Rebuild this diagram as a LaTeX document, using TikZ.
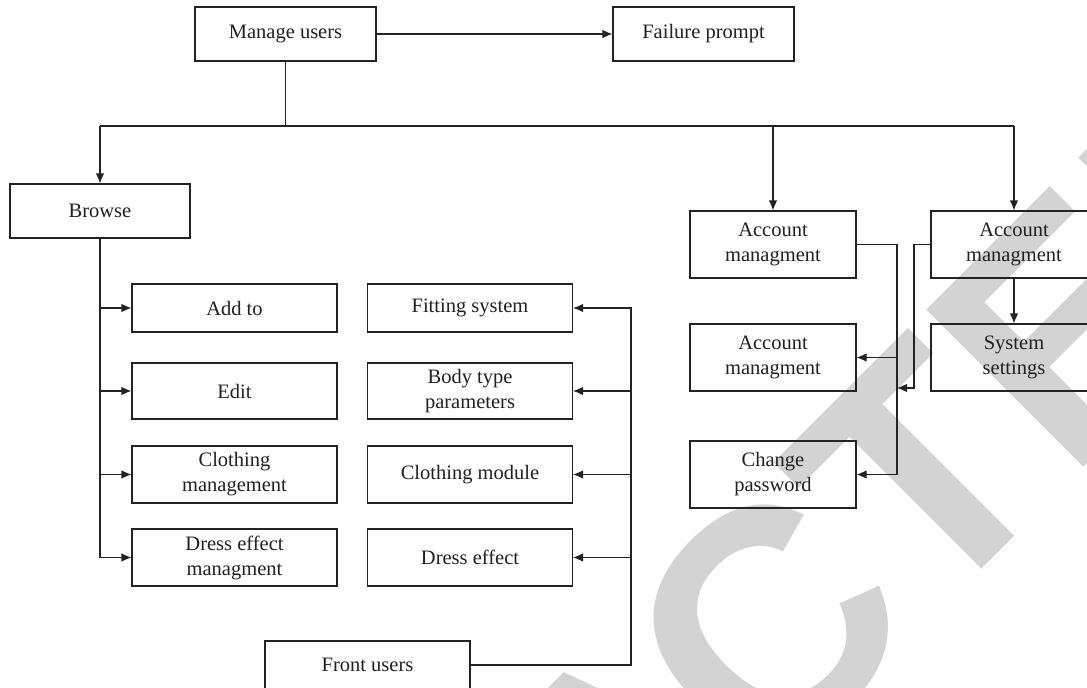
\documentclass[tikz,border=0pt]{standalone}
\usepackage{fontspec}
\setmainfont{Liberation Serif}
\newfontfamily\wmfont{Liberation Sans}
\usetikzlibrary{arrows.meta}
\definecolor{linec}{RGB}{35,35,35}
\definecolor{txtc}{RGB}{35,31,32}
\definecolor{wmc}{RGB}{211,211,211}
\begin{document}
\begin{tikzpicture}[x=1pt,y=-1pt,
  box/.style={draw=linec, line width=1.1pt, inner sep=0pt, align=center, text=txtc,
    font=\fontsize{20.5}{25}\selectfont},
  conn/.style={draw=linec, line width=1.1pt},
  arr/.style={conn, -{Latex[length=10pt,width=8.5pt]}},
  wmark/.style={anchor=base west, rotate=45, inner sep=0pt, outer sep=0pt, text=wmc,
    font=\wmfont\bfseries\fontsize{323}{323}\selectfont}]
\useasboundingbox (0,0) rectangle (1087,688);
\clip (0,0) rectangle (1087,688);
% watermark
\node[wmark] (wm) at (-2.0,1553.0) {RETRA\kern-30pt CTED};
% top
\node[box, minimum width=181pt, minimum height=54pt] (mu) at (285.5,34) {Manage users};
\node[box, minimum width=181pt, minimum height=54pt] (fp) at (703.5,34) {Failure prompt};
\node[box, minimum width=180pt, minimum height=54pt] (br) at (100,211) {Browse};
% left column
\node[box, minimum width=205pt, minimum height=48pt] (a1) at (234.5,308) {Add to};
\node[box, minimum width=205pt, minimum height=56pt] (a2) at (234.5,391) {Edit};
\node[box, minimum width=205pt, minimum height=57pt] (a3) at (234.5,474.5) {Clothing\\management};
\node[box, minimum width=205pt, minimum height=57pt] (a4) at (234.5,557.5) {Dress effect\\managment};
% right column
\node[box, minimum width=205pt, minimum height=48pt] (b1) at (470,308) {Fitting system};
\node[box, minimum width=205pt, minimum height=56pt] (b2) at (470,391) {Body type\\parameters};
\node[box, minimum width=205pt, minimum height=57pt] (b3) at (470,474.5) {Clothing module};
\node[box, minimum width=205pt, minimum height=57pt] (b4) at (470,557.5) {Dress effect};
\node[box, minimum width=205pt, minimum height=48pt] (fu) at (367.5,665) {Front users};
% account part
\node[box, minimum width=166pt, minimum height=67pt] (c1) at (773,244.5) {Account\\managment};
\node[box, minimum width=166pt, minimum height=67pt] (c2) at (773,357.5) {Account\\managment};
\node[box, minimum width=166pt, minimum height=67pt] (c3) at (773,474.5) {Change\\password};
\node[box, minimum width=166pt, minimum height=67pt] (d1) at (1014,244.5) {Account\\managment};
\node[box, minimum width=166pt, minimum height=67pt] (d2) at (1014,357.5) {System\\settings};
% coordinates
\coordinate (j) at (285.5,126);
\coordinate (hl) at (100,126);
\coordinate (hr) at (1014,126);
\coordinate (rx) at (631,308);
\coordinate (vx) at (897,0);
\coordinate (wx) at (914,388);
\coordinate (wt) at (897,388);
% connectors
\draw[arr] (mu) -- (fp);
\draw[conn] (mu.south) -- (j);
\draw[conn] (hl) -- (hr);
\draw[arr] (hl) -- (br.north);
\draw[arr] (c1.north |- hl) -- (c1.north);
\draw[arr] (hr) -- (d1.north);
\draw[conn] (br.south) -- (br.south |- a4.west);
\draw[arr] (br.south |- a1.west) -- (a1.west);
\draw[arr] (br.south |- a2.west) -- (a2.west);
\draw[arr] (br.south |- a3.west) -- (a3.west);
\draw[arr] (br.south |- a4.west) -- (a4.west);
\draw[arr] (fu.east) -| (rx) -- (b1.east);
\draw[arr] (rx |- b2.east) -- (b2.east);
\draw[arr] (rx |- b3.east) -- (b3.east);
\draw[arr] (rx |- b4.east) -- (b4.east);
\draw[arr] (c1.east) -| (vx |- c3.east) -- (c3.east);
\draw[arr] (vx |- c2.east) -- (c2.east);
\draw[arr] (d1.west) -| (wx) -- (wt);
\draw[arr] (d1.south) -- (d2.north);
\end{tikzpicture}
\end{document}
